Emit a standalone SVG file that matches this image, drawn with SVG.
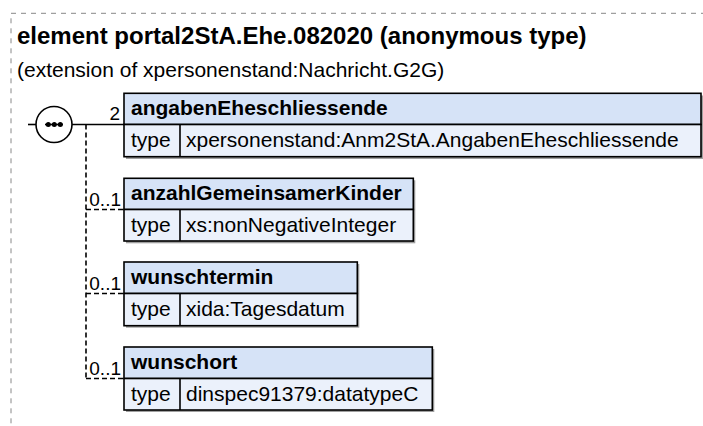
<svg xmlns="http://www.w3.org/2000/svg" width="703" height="426" viewBox="0 0 703 426">
<style>
text{font-family:"Liberation Sans",Arial,sans-serif;fill:#000}
.title{font-size:24px;font-weight:bold}
.sub{font-size:21px}
.hd{font-size:21px;font-weight:bold}
.tx{font-size:21px}
.mult{font-size:19px}
.hdr{fill:#d6e3f7;stroke:#000;stroke-width:1.6}
.bdy{fill:#ebf1fb;stroke:#000;stroke-width:1.6}
.shd{fill:#a0a0a0}
.solid{stroke:#000;stroke-width:1.6;fill:none}
.dash{stroke:#000;stroke-width:1.6;fill:none;stroke-dasharray:5,3}
</style>
<rect x="11" y="13.3" width="720" height="450" fill="none" stroke="#888" stroke-width="1" stroke-dasharray="5,5"/>
<text class="title" x="17" y="44">element portal2StA.Ehe.082020 (anonymous type)</text>
<text class="sub" x="17" y="77">(extension of xpersonenstand:Nachricht.G2G)</text>
<g id="connectors">
<line class="solid" x1="28" y1="124.5" x2="36" y2="124.5"/>
<line class="solid" x1="72" y1="124.5" x2="124" y2="124.5"/>
<line class="dash" x1="86" y1="124.5" x2="86" y2="378.5"/>
<line class="dash" x1="86" y1="209.5" x2="124" y2="209.5"/>
<line class="dash" x1="86" y1="293.5" x2="124" y2="293.5"/>
<line class="dash" x1="86" y1="378.5" x2="124" y2="378.5"/>
<text class="mult" x="120" y="120" text-anchor="end">2</text>
<text class="mult" x="121" y="206" text-anchor="end">0..1</text>
<text class="mult" x="121" y="290" text-anchor="end">0..1</text>
<text class="mult" x="121" y="375" text-anchor="end">0..1</text>
</g>
<g id="sequence">
<circle cx="54" cy="124.5" r="18" fill="#fff" stroke="#000" stroke-width="1.6"/>
<line class="solid" x1="45" y1="124.5" x2="63" y2="124.5"/>
<circle cx="48.3" cy="124.5" r="2.5"/>
<circle cx="54.3" cy="124.5" r="2.5"/>
<circle cx="60.3" cy="124.5" r="2.5"/>
</g>
<g id="angabenEheschliessende">
<rect class="shd" x="126" y="95.5" width="577" height="63.5"/>
<rect class="hdr" x="124" y="93.3" width="577" height="31.2"/>
<rect class="bdy" x="124" y="124.5" width="577" height="32.2"/>
<line class="solid" x1="180" y1="124.5" x2="180" y2="156.7"/>
<text class="hd" x="131" y="115">angabenEheschliessende</text>
<text class="tx" x="131" y="147">type</text>
<text class="tx" x="186" y="147">xpersonenstand:Anm2StA.AngabenEheschliessende</text>
</g>
<g id="anzahlGemeinsamerKinder">
<rect class="shd" x="126" y="180.3" width="289.3" height="63"/>
<rect class="hdr" x="124" y="178.3" width="289.3" height="31.2"/>
<rect class="bdy" x="124" y="209.5" width="289.3" height="31.5"/>
<line class="solid" x1="180" y1="209.5" x2="180" y2="241"/>
<text class="hd" x="131" y="200">anzahlGemeinsamerKinder</text>
<text class="tx" x="131" y="232">type</text>
<text class="tx" x="186" y="232">xs:nonNegativeInteger</text>
</g>
<g id="wunschtermin">
<rect class="shd" x="126" y="264" width="233.3" height="63.7"/>
<rect class="hdr" x="124" y="262" width="233.3" height="31.5"/>
<rect class="bdy" x="124" y="293.5" width="233.3" height="32.2"/>
<line class="solid" x1="180" y1="293.5" x2="180" y2="325.7"/>
<text class="hd" x="131" y="284">wunschtermin</text>
<text class="tx" x="131" y="316">type</text>
<text class="tx" x="186" y="316">xida:Tagesdatum</text>
</g>
<g id="wunschort">
<rect class="shd" x="126" y="349" width="308.3" height="63"/>
<rect class="hdr" x="124" y="347" width="308.3" height="31.5"/>
<rect class="bdy" x="124" y="378.5" width="308.3" height="31.5"/>
<line class="solid" x1="180" y1="378.5" x2="180" y2="410"/>
<text class="hd" x="131" y="369">wunschort</text>
<text class="tx" x="131" y="401">type</text>
<text class="tx" x="186" y="401">dinspec91379:datatypeC</text>
</g>
</svg>
